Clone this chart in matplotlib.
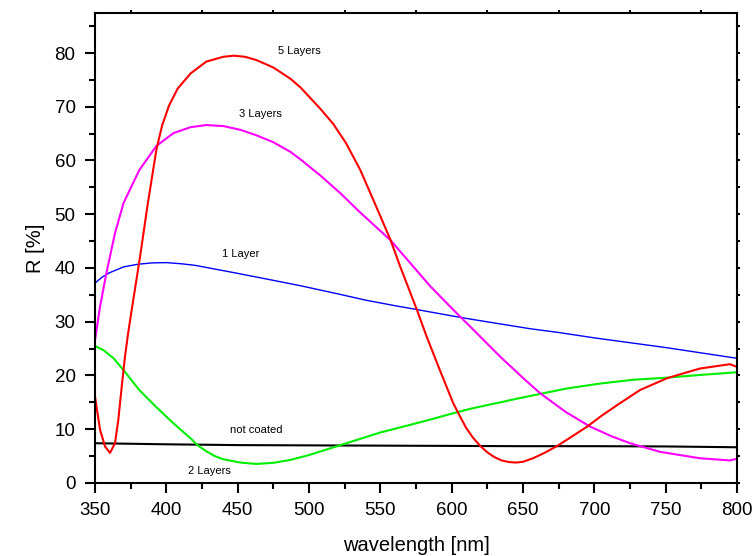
import numpy as np
import matplotlib
matplotlib.use("Agg")
import matplotlib.pyplot as plt
from matplotlib.ticker import MultipleLocator

plt.rcParams['font.family'] = ['Liberation Sans', 'DejaVu Sans']

# reflectance curves (wavelength in nm, R in %)
wl_1 = [350, 355, 360, 370, 380, 390, 400, 410, 420, 430, 450, 475, 494, 520,
        540, 560, 575, 600, 613, 634, 655, 675, 700, 725, 750, 775, 800]
r_1 = [37.2, 38.3, 39.1, 40.2, 40.7, 40.95, 41.0, 40.8, 40.5, 40.0, 39.0, 37.7, 36.7, 35.2,
       34.0, 33.0, 32.3, 31.1, 30.5, 29.6, 28.7, 28.0, 27.0, 26.1, 25.2, 24.2, 23.2]

wl_2 = [350, 356, 363, 370, 381, 393, 405, 417, 422, 428, 434, 440, 452, 463, 475, 487,
        500, 525, 550, 575, 585, 600, 613, 625, 634, 646, 657, 681, 704, 727, 751, 774, 800]
r_2 = [25.5, 24.7, 23.2, 21.0, 17.3, 14.1, 11.1, 8.3, 7.0, 5.9, 5.0, 4.4, 3.8, 3.55, 3.75, 4.3,
       5.2, 7.3, 9.4, 11.1, 11.8, 12.9, 13.8, 14.5, 15.0, 15.7, 16.3, 17.6, 18.5, 19.2, 19.6, 20.1, 20.6]

wl_3 = [350, 353.5, 358, 364, 370, 381, 393, 405, 417, 428, 440, 452, 463, 475, 487,
        494, 508, 522, 536, 550, 557, 571, 585, 599, 608, 613, 622, 634, 651, 662,
        680, 697, 712, 725, 746, 774, 795, 800]
r_3 = [26.6, 32.8, 39.1, 46.5, 52.1, 58.2, 62.7, 65.1, 66.2, 66.6, 66.4, 65.7, 64.7, 63.4, 61.6,
       60.2, 57.2, 53.9, 50.3, 46.9, 45.2, 40.9, 36.6, 32.8, 30.4, 29.1, 26.7, 23.5, 19.3, 16.7,
       13.2, 10.5, 8.7, 7.4, 5.8, 4.6, 4.2, 4.5]

wl_5 = [350, 353.5, 357, 360.5, 364, 366.3, 368.7, 371, 373, 375, 381.5, 387, 393, 397,
        402, 408, 417, 428, 440, 447, 455, 463, 475, 487, 494, 508, 517, 526, 536,
        545, 552, 557, 564, 575.5, 582.5, 592, 601, 606, 610, 615, 620, 625, 630, 635,
        640, 645, 650, 657, 665, 674, 684, 695, 705, 716, 732, 751, 774, 795, 800]
r_5 = [16.1, 9.9, 6.8, 5.6, 7.4, 11.7, 17.9, 23.5, 27.5, 31.0, 42.0, 52.0, 62.0, 66.5,
       70.3, 73.4, 76.2, 78.4, 79.3, 79.5, 79.3, 78.7, 77.3, 75.2, 73.6, 69.6, 66.8, 63.2, 58.2,
       52.7, 48.4, 45.3, 40.2, 32.3, 27.2, 20.8, 14.9, 12.3, 10.3, 8.4, 6.9, 5.7, 4.8, 4.2,
       3.9, 3.8, 3.95, 4.6, 5.6, 6.9, 8.6, 10.5, 12.5, 14.5, 17.3, 19.5, 21.3, 22.1, 21.6]

wl_0 = [350, 400, 450, 500, 550, 600, 650, 700, 750, 800]
r_0 = [7.4, 7.2, 7.05, 7.0, 6.95, 6.9, 6.85, 6.85, 6.8, 6.65]

fig = plt.figure(figsize=(7.56, 5.56), dpi=100)
ax = fig.add_axes([0.1257, 0.1313, 0.8492, 0.8453])

ax.plot(wl_0, r_0, color='black', lw=1.5)
ax.plot(wl_1, r_1, color='#0000ff', lw=1.0)
ax.plot(wl_2, r_2, color='#00ee00', lw=1.5)
ax.plot(wl_3, r_3, color='#ff00ff', lw=1.5)
ax.plot(wl_5, r_5, color='#ff0000', lw=1.5)

# curve labels
ax.text(493, 80.3, '5 Layers', fontsize=8, ha='center', va='center')
ax.text(466, 68.6, '3 Layers', fontsize=8, ha='center', va='center')
ax.text(452, 42.6, '1 Layer', fontsize=8, ha='center', va='center')
ax.text(463, 9.9, 'not coated', fontsize=8, ha='center', va='center')
ax.text(430, 2.3, '2 Layers', fontsize=8, ha='center', va='center')

ax.set_xlim(350, 800)
ax.set_ylim(0, 87.44)
ax.xaxis.set_major_locator(MultipleLocator(50))
ax.xaxis.set_minor_locator(MultipleLocator(25))
ax.yaxis.set_major_locator(MultipleLocator(10))
ax.yaxis.set_minor_locator(MultipleLocator(5))

for s in ax.spines.values():
    s.set_linewidth(1.5)

ax.tick_params(which='major', direction='out', length=7, width=1.5, labelsize=13.5, pad=7)
ax.tick_params(which='minor', direction='out', length=4, width=1.5)
# small ticks on the top and right frame
ax.tick_params(axis='x', which='minor', top=True, labeltop=False)
ax.tick_params(axis='y', which='both', right=True, labelright=False)
for t in ax.xaxis.get_minor_ticks():
    t.tick2line.set_markersize(2)
for t in ax.yaxis.get_major_ticks() + ax.yaxis.get_minor_ticks():
    t.tick2line.set_markersize(2.5)

ax.set_xlabel('wavelength [nm]', fontsize=14.5, labelpad=12)
ax.set_ylabel('R [%]', fontsize=14.5, labelpad=7)

fig.savefig('out.png', dpi=100)
